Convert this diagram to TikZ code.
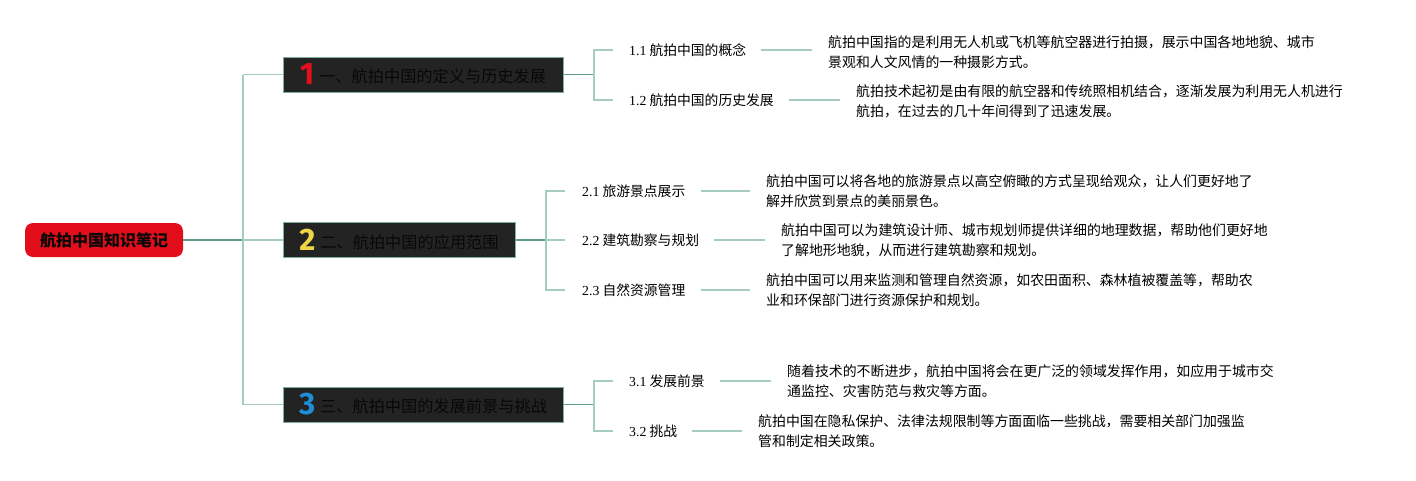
\documentclass[tikz,border=0pt]{standalone}
\usepackage{fontspec}
\setmainfont{Liberation Serif}
\newfontfamily\cjk{Noto Sans CJK SC}
\newfontfamily\numfont{Fira Sans}
\definecolor{lightline}{HTML}{A6CCBF}
\definecolor{darkline}{HTML}{5E9C89}
\definecolor{boxborder}{HTML}{7FAE9E}
\definecolor{boxfill}{HTML}{232323}
\definecolor{boxtext}{HTML}{080808}
\definecolor{rootred}{HTML}{E20F1B}
\definecolor{numred}{HTML}{E3101C}
\definecolor{numyellow}{HTML}{F0D544}
\definecolor{numblue}{HTML}{1E8FD6}
\tikzset{
  rootbox/.style={draw=none, fill=rootred, rounded corners=8pt, minimum width=158pt, minimum height=34pt, inner sep=0pt, font=\cjk\bfseries\fontsize{16}{18}\selectfont, text=boxtext},
  branchbox/.style={draw=boxborder, line width=1pt, fill=boxfill, minimum height=35pt, inner sep=0pt, font=\cjk\fontsize{16.2}{18}\selectfont, text=boxtext},
  sublabel/.style={anchor=west, inner sep=0pt, font=\cjk\fontsize{13.8}{16}\selectfont, text=black},
  desc/.style={anchor=west, inner sep=0pt, align=left, font=\cjk\fontsize{13.9}{20}\selectfont, text=black},
  trunk/.style={draw=lightline, line width=1.4pt},
  thickline/.style={draw=darkline, line width=1.8pt},
  leafline/.style={draw=lightline, line width=1.4pt},
}
\newcommand{\bnum}[2]{{\numfont\bfseries\fontsize{31}{31}\selectfont\color{#1}#2}}
\begin{document}
\begin{tikzpicture}[x=1pt,y=-1pt]
\useasboundingbox (0,0) rectangle (1416,480);
% root
\node[rootbox] (root) at (104,240) {航拍中国知识笔记};
% branches
\node[branchbox, minimum width=280pt] (b1) at (423,74.5) {\raisebox{-2pt}{\bnum{numred}{1}}\hspace{5pt}一、航拍中国的定义与历史发展};
\node[branchbox, minimum width=232pt] (b2) at (399,240) {\raisebox{-2pt}{\bnum{numyellow}{2}}\hspace{5pt}二、航拍中国的应用范围};
\node[branchbox, minimum width=280pt] (b3) at (423,404.5) {\raisebox{-2pt}{\bnum{numblue}{3}}\hspace{5pt}三、航拍中国的发展前景与挑战};
% junction coordinates
\coordinate (t0) at (243,240);
\coordinate (t1) at (243,74.5);
\coordinate (t3) at (243,404.5);
\coordinate (j1) at (594,74.5);
\coordinate (j2) at (546,240);
\coordinate (j3) at (594,404.5);
% labels
\node[sublabel] (l11) at (629,50) {{\rmfamily 1.1} 航拍中国的概念};
\node[sublabel] (l12) at (629,100) {{\rmfamily 1.2} 航拍中国的历史发展};
\node[sublabel] (l21) at (582,191) {{\rmfamily 2.1} 旅游景点展示};
\node[sublabel] (l22) at (582,240) {{\rmfamily 2.2} 建筑勘察与规划};
\node[sublabel] (l23) at (582,290) {{\rmfamily 2.3} 自然资源管理};
\node[sublabel] (l31) at (629,381) {{\rmfamily 3.1} 发展前景};
\node[sublabel] (l32) at (629,431) {{\rmfamily 3.2} 挑战};
% descriptions
\node[desc] (d11) at (828,52) {航拍中国指的是利用无人机或飞机等航空器进行拍摄，展示中国各地地貌、城市\\景观和人文风情的一种摄影方式。};
\node[desc] (d12) at (856,101) {航拍技术起初是由有限的航空器和传统照相机结合，逐渐发展为利用无人机进行\\航拍，在过去的几十年间得到了迅速发展。};
\node[desc] (d21) at (766,191.5) {航拍中国可以将各地的旅游景点以高空俯瞰的方式呈现给观众，让人们更好地了\\解并欣赏到景点的美丽景色。};
\node[desc] (d22) at (781,240.5) {航拍中国可以为建筑设计师、城市规划师提供详细的地理数据，帮助他们更好地\\了解地形地貌，从而进行建筑勘察和规划。};
\node[desc] (d23) at (766,290.5) {航拍中国可以用来监测和管理自然资源，如农田面积、森林植被覆盖等，帮助农\\业和环保部门进行资源保护和规划。};
\node[desc] (d31) at (787,381) {随着技术的不断进步，航拍中国将会在更广泛的领域发挥作用，如应用于城市交\\通监控、灾害防范与救灾等方面。};
\node[desc] (d32) at (758,431) {航拍中国在隐私保护、法律法规限制等方面面临一些挑战，需要相关部门加强监\\管和制定相关政策。};
% root to trunk
\draw[thickline] (root.east) -- (t0);
\draw[trunk] (t1) -- (t3);
\draw[trunk] (t0) -- (b2.west);
\draw[trunk] (t1) -- (b1.west);
\draw[trunk] (t3) -- (b3.west);
% branch 1
\draw[thickline] (b1.east) -- (j1);
\draw[leafline] ([xshift=-16pt]l11.west) -| (j1) |- ([xshift=-16pt]l12.west);
% branch 2
\draw[thickline] (b2.east) -- (j2);
\draw[leafline] ([xshift=-17pt]l21.west) -| (j2) |- ([xshift=-17pt]l23.west);
\draw[leafline] (j2) -- ([xshift=-17pt]l22.west);
% branch 3
\draw[thickline] (b3.east) -- (j3);
\draw[leafline] ([xshift=-16pt]l31.west) -| (j3) |- ([xshift=-16pt]l32.west);
% label to description
\foreach \a in {11,12,21,22,23,31,32} {
  \draw[leafline] ([xshift=15pt]l\a.east) -- ([xshift=-16pt]l\a.east -| d\a.west);
}
\end{tikzpicture}
\end{document}
